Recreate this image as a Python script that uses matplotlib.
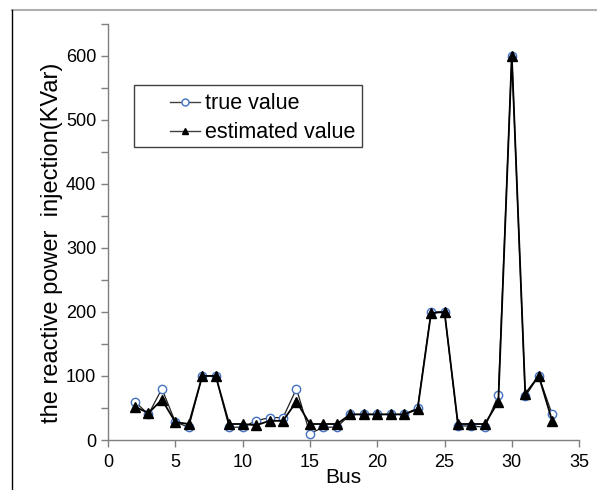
import numpy as np
import matplotlib
matplotlib.use('Agg')
import matplotlib.pyplot as plt
from matplotlib.lines import Line2D
from matplotlib.patches import Rectangle

plt.rcParams['font.family'] = ['Liberation Sans', 'DejaVu Sans']

# data
bus = list(range(2, 34))
true_value = [60, 40, 80, 28, 20, 100, 100, 20, 20, 30, 35, 35, 80, 10, 20, 20,
              40, 40, 40, 40, 40, 50, 200, 200, 22, 22, 20, 70, 600, 68, 100, 40]
est_value = [52, 42, 63, 28, 25, 100, 100, 25, 25, 23, 30, 30, 60, 25, 25, 25,
             40, 40, 40, 40, 40, 48, 198, 200, 25, 25, 25, 60, 600, 72, 100, 30]
x_ticks = [0, 5, 10, 15, 20, 25, 30, 35]
y_ticks = [0, 100, 200, 300, 400, 500, 600]

W, H = 597, 490
fig = plt.figure(figsize=(W / 100, H / 100), dpi=100)
ax = fig.add_axes([0.181, 0.102, 0.789, 0.85])

ax.plot(bus, true_value, color='#202020', lw=0.9, marker='o', ms=6,
        mfc='white', mec='#4472C4', mew=1.0, label='true value', zorder=2)
ax.plot(bus, est_value, color='black', lw=1.3, marker='^', ms=6.5,
        mfc='black', mec='black', label='estimated value', zorder=3)

ax.set_xlim(0, 35)
ax.set_ylim(0, 650)
ax.set_xticks(x_ticks)
ax.set_yticks(y_ticks)
ax.set_yticks(np.arange(50, 651, 100), minor=True)

gray = '#7f7f7f'
for s in ['top', 'right']:
    ax.spines[s].set_visible(False)
for s in ['left', 'bottom']:
    ax.spines[s].set_color(gray)
    ax.spines[s].set_linewidth(1.0)
ax.tick_params(which='both', direction='out', length=5, color=gray, width=1.0,
               labelsize=13, labelcolor='black')
ax.tick_params(axis='x', pad=5)

ax.set_xlabel('Bus', fontsize=15, labelpad=-2)
ax.set_ylabel('the reactive power  injection(KVar)', fontsize=17)
ax.yaxis.set_label_coords(-0.095, 0.473)

# legend without its own frame, box drawn like the reference (wide left padding)
leg = ax.legend(loc='upper left', bbox_to_anchor=(166 / W, 1 - 89 / H),
                bbox_transform=fig.transFigure, fontsize=15.5, frameon=False,
                handlelength=1.4, handletextpad=0.2, borderpad=0.2,
                labelspacing=0.36, borderaxespad=0)
for h in leg.legend_handles:
    h.set_markersize(5)
    h.set_linewidth(1.0)
    h.set_color('#404040')
leg.legend_handles[0].set_markeredgecolor('#4472C4')
leg.legend_handles[0].set_markerfacecolor('white')
leg.legend_handles[1].set_markerfacecolor('black')
leg.legend_handles[1].set_markeredgecolor('black')
fig.add_artist(Rectangle((134 / W, 1 - 147 / H), 228 / W, 62 / H,
                         transform=fig.transFigure, fill=False,
                         edgecolor='#404040', lw=1.0))

# picture border seen in the reference
fig.add_artist(Line2D([12 / W, 1], [1 - 10 / H, 1 - 10 / H], color='#b0b0b0', lw=1.5))
fig.add_artist(Line2D([12 / W, 12 / W], [0, 1 - 10 / H], color='black', lw=1.0))

fig.savefig('out.png', dpi=100)
